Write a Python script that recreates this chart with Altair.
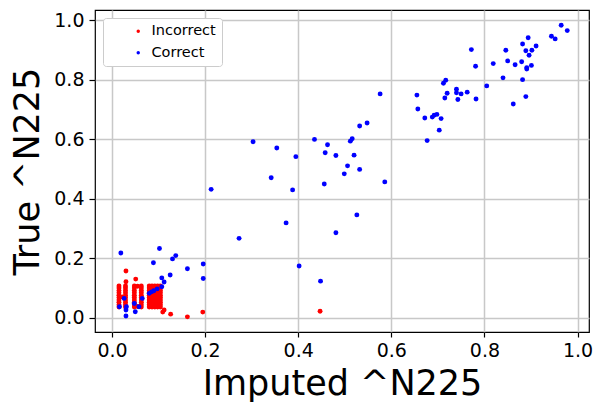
import altair as alt
import pandas as pd

# Dense band of incorrect imputations: x positions of the columns and the y levels they cover
incorrect_columns_x = [0.015, 0.029, 0.048, 0.063, 0.080, 0.086, 0.092, 0.098, 0.104]
incorrect_levels_y = [0.036, 0.044, 0.052, 0.060, 0.068, 0.076, 0.084, 0.092, 0.100, 0.107]

# Remaining incorrect imputations
incorrect_x = [0.022, 0.055, 0.055, 0.030, 0.030, 0.051, 0.112, 0.109, 0.126, 0.162, 0.195, 0.447]
incorrect_y = [0.070, 0.106, 0.038, 0.157, 0.121, 0.130, 0.026, 0.019, 0.012, 0.003, 0.019, 0.022]

correct_x = [
    0.019, 0.102, 0.137, 0.130, 0.089, 0.162, 0.196, 0.196, 0.125, 0.107,
    0.112, 0.273, 0.080, 0.085, 0.090, 0.097, 0.107, 0.016, 0.030, 0.031,
    0.030, 0.026, 0.048, 0.050, 0.058, 0.065,
    0.213, 0.303, 0.354, 0.395, 0.342, 0.388, 0.435, 0.463, 0.458, 0.481,
    0.520, 0.506, 0.532, 0.499, 0.456, 0.586, 0.512, 0.516, 0.532, 0.548,
    0.374, 0.526, 0.481, 0.402, 0.448,
    0.772, 0.781, 0.819, 0.846, 0.850, 0.866, 0.880, 0.882, 0.894, 0.889,
    0.896, 0.911, 0.902, 0.891, 0.891, 0.901, 0.840, 0.882, 0.889, 0.862,
    0.805, 0.944, 0.952, 0.965, 0.978, 0.712, 0.717, 0.720, 0.715, 0.740,
    0.740, 0.750, 0.743, 0.763, 0.782, 0.655, 0.657, 0.672, 0.688, 0.692,
    0.698, 0.707, 0.703, 0.677, 0.576,
]
correct_y = [
    0.218, 0.233, 0.209, 0.198, 0.185, 0.165, 0.181, 0.132, 0.144, 0.134,
    0.120, 0.267, 0.082, 0.087, 0.091, 0.097, 0.104, 0.037, 0.026, 0.037,
    0.006, 0.065, 0.048, 0.020, 0.037, 0.065,
    0.432, 0.592, 0.571, 0.542, 0.471, 0.430, 0.600, 0.582, 0.555, 0.546,
    0.547, 0.511, 0.499, 0.484, 0.450, 0.457, 0.594, 0.602, 0.645, 0.655,
    0.319, 0.346, 0.286, 0.174, 0.123,
    0.902, 0.846, 0.855, 0.900, 0.864, 0.851, 0.861, 0.921, 0.942, 0.898,
    0.883, 0.914, 0.900, 0.841, 0.837, 0.849, 0.807, 0.801, 0.744, 0.719,
    0.780, 0.947, 0.938, 0.984, 0.966, 0.789, 0.799, 0.755, 0.739, 0.769,
    0.757, 0.753, 0.734, 0.759, 0.736, 0.749, 0.702, 0.672, 0.675, 0.681,
    0.684, 0.670, 0.631, 0.596, 0.753,
]

categories = ["Incorrect", "Correct"]
tick_values = [0.0, 0.2, 0.4, 0.6, 0.8, 1.0]

band = pd.DataFrame(
    [(cx, ly) for cx in incorrect_columns_x for ly in incorrect_levels_y],
    columns=["imputed", "true"],
)
band["status"] = categories[0]

df = pd.concat([
    band,
    pd.DataFrame({"imputed": incorrect_x, "true": incorrect_y, "status": categories[0]}),
    pd.DataFrame({"imputed": correct_x, "true": correct_y, "status": categories[1]}),
], ignore_index=True)

font = "DejaVu Sans"

chart = alt.Chart(df).mark_circle(size=24, opacity=1).encode(
    x=alt.X(
        "imputed:Q",
        scale=alt.Scale(domain=[-0.0365, 1.0247], nice=False, zero=False),
        axis=alt.Axis(
            title="Imputed ^N225", values=tick_values, format=".1f",
            labelFontSize=19, titleFontSize=35, titleFontWeight="normal",
            tickSize=5, labelPadding=4, titlePadding=6,
        ),
    ),
    y=alt.Y(
        "true:Q",
        scale=alt.Scale(domain=[-0.048, 1.0353], nice=False, zero=False),
        axis=alt.Axis(
            title="True ^N225", values=tick_values, format=".1f",
            labelFontSize=19, titleFontSize=35, titleFontWeight="normal",
            tickSize=6, labelPadding=5, titlePadding=8,
        ),
    ),
    color=alt.Color(
        "status:N",
        scale=alt.Scale(domain=categories, range=["#ff0000", "#0000ff"]),
        sort=categories,
        legend=alt.Legend(
            title=None, orient="none", legendX=8, legendY=8,
            symbolType="circle", symbolSize=12, symbolOffset=22,
            labelOffset=6, labelFontSize=14.5, rowPadding=6.5,
            padding=6, strokeColor="#cccccc", cornerRadius=3,
            fillColor="#ffffff",
        ),
    ),
    order=alt.Order("status:N", sort="descending"),
).properties(
    width=494,
    height=322,
    autosize=alt.AutoSizeParams(type="none"),
    padding={"left": 95, "top": 10, "right": 6, "bottom": 72},
).configure_axis(
    labelFont=font, titleFont=font, labelColor="#000000", titleColor="#000000",
    gridColor="#c8c8c8", gridWidth=1.5, domain=False,
    tickColor="#000000", tickWidth=1.2,
).configure_legend(
    labelFont=font, labelColor="#000000",
).configure_view(
    stroke="#000000", strokeWidth=1.2,
)

chart.save("out.html", embed_options={"renderer": "svg", "actions": False})
